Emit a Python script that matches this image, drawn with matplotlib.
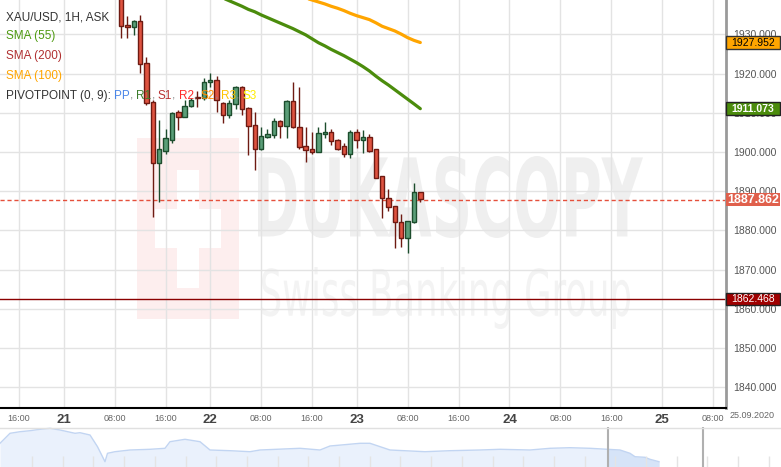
import numpy as np
import matplotlib.pyplot as plt
from matplotlib.patches import Rectangle, PathPatch
from matplotlib.textpath import TextPath
from matplotlib.font_manager import FontProperties
from matplotlib.transforms import Affine2D, blended_transform_factory

plt.rcParams["font.family"] = ["Liberation Sans", "DejaVu Sans"]

W, H = 781, 467

# hourly XAU/USD candles, 21.09 08:00 -> 23.09 ~10:00
opens = [1941.5, 1932.3, 1932.0, 1933.5, 1922.6, 1912.8, 1897.3, 1900.3, 1903.2, 1910.1,
         1909.0, 1911.7, 1914.0, 1913.7, 1917.8, 1918.5, 1912.4, 1909.4, 1912.2, 1916.7,
         1911.3, 1907.0, 1900.7, 1903.9, 1904.3, 1907.9, 1906.7, 1913.1, 1906.5, 1901.6,
         1900.7, 1899.9, 1904.5, 1905.2, 1903.2, 1901.5, 1899.4, 1905.0, 1903.2, 1903.8,
         1900.7, 1893.9, 1888.4, 1886.2, 1882.1, 1878.2, 1882.1, 1889.7]
highs = [1943.0, 1934.7, 1933.6, 1934.9, 1924.2, 1913.3, 1908.2, 1906.0, 1910.3, 1910.7,
         1913.3, 1913.7, 1915.6, 1918.8, 1920.3, 1919.4, 1912.8, 1913.3, 1916.8, 1916.8,
         1911.6, 1910.3, 1906.5, 1905.8, 1908.8, 1908.3, 1913.2, 1917.9, 1916.7, 1906.3,
         1905.0, 1906.3, 1907.6, 1906.0, 1903.4, 1902.3, 1905.6, 1905.9, 1905.6, 1904.6,
         1900.8, 1894.0, 1890.7, 1886.3, 1884.1, 1882.5, 1892.2, 1889.8]
lows = [1929.1, 1929.1, 1929.8, 1920.1, 1912.1, 1883.5, 1887.3, 1899.5, 1902.2, 1905.6,
        1908.9, 1911.4, 1911.4, 1913.4, 1916.5, 1910.3, 1907.5, 1908.6, 1911.1, 1909.4,
        1899.2, 1895.4, 1900.5, 1903.5, 1903.5, 1903.6, 1903.5, 1906.2, 1900.9, 1897.5,
        1899.5, 1899.9, 1903.6, 1901.8, 1900.5, 1898.7, 1898.5, 1901.1, 1899.8, 1899.9,
        1893.4, 1883.2, 1884.9, 1875.4, 1875.8, 1874.2, 1882.0, 1887.2]
closes = [1932.1, 1932.0, 1933.5, 1922.4, 1912.4, 1897.1, 1900.7, 1903.5, 1910.0, 1909.0,
          1911.7, 1913.3, 1913.8, 1917.9, 1918.5, 1913.4, 1909.4, 1912.4, 1916.7, 1911.1,
          1906.7, 1900.7, 1904.1, 1904.5, 1907.9, 1906.7, 1913.1, 1906.3, 1901.2, 1900.5,
          1899.9, 1904.8, 1905.0, 1902.9, 1900.7, 1899.4, 1905.0, 1903.2, 1903.8, 1900.3,
          1893.5, 1888.2, 1885.9, 1882.1, 1878.2, 1882.4, 1889.7, 1887.9]

# visible part of the moving averages (from candle 16 and 29 to the last one)
sma55 = [1939.3, 1938.6, 1937.9, 1937.2, 1936.4, 1935.8, 1935.0, 1934.3, 1933.6, 1932.9,
         1932.2, 1931.5, 1930.7, 1929.9, 1928.9, 1927.9, 1927.1, 1926.2, 1925.4, 1924.6,
         1923.7, 1922.8, 1921.8, 1920.7, 1919.4, 1918.2, 1917.1, 1915.9, 1914.7, 1913.5,
         1912.3, 1911.073]
sma100 = [1939.3, 1938.8, 1938.3, 1937.8, 1937.2, 1936.7, 1936.1, 1935.4, 1934.8, 1934.3,
          1933.8, 1933.0, 1932.1, 1931.5, 1930.9, 1930.1, 1929.2, 1928.5, 1927.952]

last_price = 1887.862
level_line = 1862.468

tick_pos = [-23, -16, -8, 0, 7, 15, 23, 30, 38, 46, 54, 62, 70, 78, 86]
tick_lab = ["16:00", "21", "08:00", "16:00", "22", "08:00", "16:00", "23",
            "08:00", "16:00", "24", "08:00", "16:00", "25", "08:00"]

# navigator (overview) series
nav_x = [0, 10, 20, 30, 40, 50, 60, 75, 80, 90, 97.5, 100, 105, 107.5, 115, 130, 150,
         165, 170, 185, 200, 210, 230, 250, 260, 300, 320, 330, 360, 370, 390, 425,
         450, 480, 500, 530, 550, 570, 590, 607.5, 620, 630, 635, 645, 650, 659]
nav_y = [23.7, 33.7, 35.3, 36.3, 37.7, 38.7, 37.0, 33.7, 34.3, 32.0, 20.3, 15.3, 5.3,
         13.7, 15.3, 17.0, 17.7, 18.7, 25.3, 27.7, 25.3, 17.0, 16.3, 15.3, 17.0, 18.7,
         17.0, 21.0, 23.7, 23.7, 17.0, 15.3, 16.3, 17.0, 17.7, 17.0, 18.7, 19.3, 18.7,
         17.7, 17.0, 13.7, 10.3, 9.7, 7.7, 5.3]

fig = plt.figure(figsize=(W / 100, H / 100), dpi=100)
fig.patch.set_facecolor("white")
ax = fig.add_axes([0, 1 - 408 / H, 726 / W, 408 / H])
ax.set_facecolor("none")
ax.set_axisbelow(True)


def fit_text(s, x0, y0, x1, y1, color, weight):
    tp = TextPath((0, 0), s, size=1, prop=FontProperties(family="DejaVu Sans", weight=weight))
    bb = tp.get_extents()
    tr = (Affine2D().translate(-bb.x0, -bb.y0)
          .scale((x1 - x0) / bb.width / W, (y1 - y0) / bb.height / H)
          .translate(x0 / W, 1 - y1 / H) + fig.transFigure)
    ax.add_patch(PathPatch(tp, transform=tr, facecolor=color, lw=0, zorder=0.2))


def fig_rect(x0, y0, x1, y1, color):
    ax.add_patch(Rectangle((x0 / W, 1 - y1 / H), (x1 - x0) / W, (y1 - y0) / H,
                           transform=fig.transFigure, facecolor=color, lw=0, zorder=0.1))


# watermark
fig_rect(137, 138, 239, 319, "#fdeeee")
fig_rect(177, 170, 199, 288, "white")
fig_rect(155, 209, 221, 248, "white")
fit_text("DUKASCOPY", 258, 156, 643, 238, "#efefef", "bold")
fit_text("Swiss Banking Group", 262, 267, 630, 329, "#f3f3f3", "normal")

slot = np.arange(len(opens)) - 7
o = np.array(opens)
c = np.array(closes)
up = c >= o
for mask, fill, edge in [(up, "#5b9e78", "#1d4d2d"), (~up, "#de5340", "#6e1a12")]:
    ax.vlines(slot[mask], np.array(lows)[mask], np.array(highs)[mask], color=edge, lw=1, zorder=3)
    body = np.maximum(np.abs(c - o)[mask], 0.35)
    ax.bar(slot[mask], body, bottom=np.minimum(o, c)[mask], width=0.7,
           color=fill, edgecolor=edge, linewidth=1, zorder=4)

ax.plot(slot[16:], sma55, color="#4b8c0c", lw=2.3, zorder=5, solid_capstyle="round")
ax.plot(slot[29:], sma100, color="#ffa500", lw=2.3, zorder=5, solid_capstyle="round")

ax.axhline(last_price, color="#e5503c", lw=1, ls=(0, (3, 2)), zorder=2)
ax.axhline(level_line, color="#8b0000", lw=1, zorder=2)

ax.set_xlim(-26, 88)
ax.set_ylim(1834.7, 1938.8)
ax.set_yticks(np.arange(1840, 1931, 10))
ax.set_yticklabels([f"{v:.3f}" for v in np.arange(1840, 1931, 10)])
ax.yaxis.tick_right()
ax.set_xticks(tick_pos)
ax.set_xticklabels(tick_lab)
ax.grid(color="#e3e3e3", lw=1)
ax.tick_params(axis="y", length=0, labelsize=7.5, labelcolor="#555555", pad=5)
ax.tick_params(axis="x", length=0, labelsize=6.5, labelcolor="#666666", pad=4)
for lab in ax.get_xticklabels():
    if len(lab.get_text()) == 2:
        lab.set_fontsize(9.5)
        lab.set_fontweight("bold")
        lab.set_color("#444444")
for side in ["top", "left"]:
    ax.spines[side].set_visible(False)
ax.spines["right"].set_color("#9a9a9a")
ax.spines["right"].set_linewidth(2)
ax.spines["bottom"].set_color("black")
ax.spines["bottom"].set_linewidth(1.5)

fig.text(752 / W, 1 - 416 / H, "25.09.2020", fontsize=6.5, color="#666666", ha="center", va="center")

# price boxes on the right axis
btr = blended_transform_factory(ax.transAxes, ax.transData)
bw = 54 / 726
bh = 12.5 / 3.92
for val, bg, fg, border, bold, fs in [(1927.952, "#ffa500", "black", "#333333", False, 7.5),
                                      (1911.073, "#4b8c0c", "white", "#222222", True, 7.5),
                                      (last_price, "#e0604c", "white", "none", True, 9),
                                      (level_line, "#a00000", "white", "#222222", False, 7.5)]:
    ax.add_patch(Rectangle((1.0, val - bh / 2), bw, bh, transform=btr, facecolor=bg,
                           edgecolor=border, lw=1, clip_on=False, zorder=10))
    ax.text(1.0 + bw / 2, val, f"{val:.3f}", transform=btr, ha="center", va="center",
            color=fg, fontsize=fs, fontweight="bold" if bold else "normal",
            clip_on=False, zorder=11)

# legend in the top-left corner
fnt = dict(fontsize=8.5)
fig.text(6 / W, 1 - 20 / H, "XAU/USD, 1H, ASK", color="#333333", va="baseline", **fnt)
fig.text(6 / W, 1 - 39.5 / H, "SMA (55)", color="#4e9a10", va="baseline", **fnt)
fig.text(6 / W, 1 - 59 / H, "SMA (200)", color="#b03030", va="baseline", **fnt)
fig.text(6 / W, 1 - 79 / H, "SMA (100)", color="#ffa500", va="baseline", **fnt)

pieces = [("PIVOTPOINT (0, 9): ", "#333333"), ("PP", "#4a86e8"), (", ", "#888888"),
          ("R1", "#3d7d2d"), (", ", "#888888"), ("S1", "#b83232"), (", ", "#888888"),
          ("R2", "#ff2a2a"), (", ", "#888888"), ("S2", "#ff8a00"), (", ", "#888888"),
          ("R3", "#ffc400"), (", ", "#888888"), ("S3", "#ffee00")]
renderer = fig.canvas.get_renderer()
xp = 6
for s, col in pieces:
    t = fig.text(xp / W, 1 - 99 / H, s, color=col, va="baseline", zorder=12, **fnt)
    xp += t.get_window_extent(renderer).width

# navigator
nav = fig.add_axes([0, 0, 1, 40 / H])
nav.set_xlim(0, W)
nav.set_ylim(0, 40)
nav.axis("off")
nx = np.array(nav_x)
ny = np.array(nav_y)
nav.fill_between(nx, ny, color="#eaf1fc", lw=0)
sel = nx >= 607.5
nav.fill_between(nx[sel], ny[sel], color="#d6e4f8", lw=0)
nav.plot(nx, ny, color="#c2d5f2", lw=1)
nav.vlines(np.arange(32, W, 30.7), 0, 11, color="#e4e4e4", lw=1)
nav.axvline(607.5, color="#b0b0b0", lw=1.5)
nav.axvline(702.5, color="#b0b0b0", lw=1.5)
nav.axhline(39.5, color="#e0e0e0", lw=1)

fig.savefig("out.png", dpi=100)
